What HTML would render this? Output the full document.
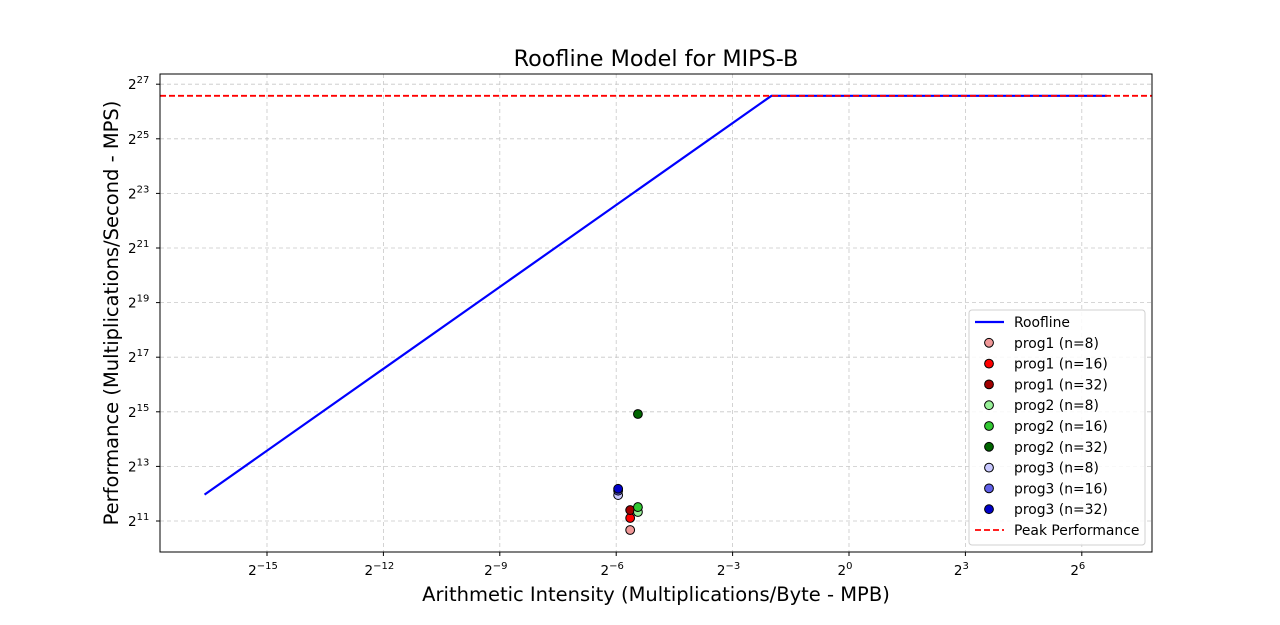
<!DOCTYPE html>
<html><head><meta charset="utf-8"><style>
body{margin:0;background:#fff;font-family:"Liberation Sans","DejaVu Sans",sans-serif}
svg text{font-family:"DejaVu Sans","Liberation Sans",sans-serif}
</style></head><body>
<svg id="chart" width="1280" height="620" xmlns="http://www.w3.org/2000/svg">
<text x="656" y="66" text-anchor="middle" font-size="22.3">Roofline Model for MIPS-B</text>
<g id="grid"></g>
<g id="marks"></g>
<rect x="160" y="74" width="992" height="478" fill="none" stroke="#000" stroke-width="1"/>
<g id="ticks"></g>
<text x="656" y="601" text-anchor="middle" font-size="19.5">Arithmetic Intensity (Multiplications/Byte - MPB)</text>
<text transform="translate(118,313) rotate(-90)" text-anchor="middle" font-size="19.5">Performance (Multiplications/Second - MPS)</text>
<g id="legend"></g>
</svg>
<script>
const xTickExps=[-15,-12,-9,-6,-3,0,3,6];
const yTickExps=[11,13,15,17,19,21,23,25,27];
const roofAI=[1e-5,0.25,100];
const peakPerf=1e8;
const seriesNames=["prog1 (n=8)","prog1 (n=16)","prog1 (n=32)","prog2 (n=8)","prog2 (n=16)","prog2 (n=32)","prog3 (n=8)","prog3 (n=16)","prog3 (n=32)"];
const seriesAIlog2=[-5.64,-5.64,-5.64,-5.44,-5.44,-5.44,-5.95,-5.95,-5.95];
const seriesPerfLog2=[10.67,11.11,11.40,11.33,11.51,14.92,11.95,12.11,12.18];
const seriesColors=["#f09898","#ff0000","#a00000","#98f098","#32c832","#006400","#c8c8ff","#6060e8","#0000c8"];
const bandwidth=4e8;
const NS="http://www.w3.org/2000/svg";
const X=l=>849+38.8*l, Y=l=>521-27.3*(l-11);
function mk(t,a,p){const e=document.createElementNS(NS,t);for(const k in a)e.setAttribute(k,a[k]);p.appendChild(e);return e;}
const grid=document.getElementById('grid'),ticks=document.getElementById('ticks'),marks=document.getElementById('marks'),leg=document.getElementById('legend');
xTickExps.forEach(e=>{const x=X(e);
 const g=mk('line',{x1:x,x2:x,y1:74,y2:552,stroke:'#c8c8c8','stroke-dasharray':'4,3','stroke-width':0.8},grid);
 
 
 mk('line',{x1:x,x2:x,y1:552,y2:556,stroke:'#000'},ticks);
 const t=mk('text',{x:x-4,y:575,'text-anchor':'middle','font-size':13.5},ticks);
 
 
 t.innerHTML='2<tspan dy="-6" font-size="10">'+(e<0?'\u2212'+(-e):e)+'</tspan>';});
yTickExps.forEach(e=>{const y=Y(e);
 const g=mk('line',{x1:160,x2:1152,y1:y,y2:y,stroke:'#c8c8c8','stroke-dasharray':'4,3','stroke-width':0.8},grid);
 
 
 mk('line',{x1:156,x2:160,y1:y,y2:y,stroke:'#000'},ticks);
 const t=mk('text',{x:128,y:y+5,'font-size':13.5},ticks);
 
 
 t.innerHTML='2<tspan dy="-6" font-size="10">'+e+'</tspan>';});
const pts=roofAI.map(a=>[X(Math.log2(a)),Y(Math.log2(Math.min(peakPerf,a*bandwidth)))]);
const rl=mk('polyline',{points:pts.map(p=>p.join(',')).join(' '),fill:'none',stroke:'#0000ff','stroke-width':2.2},marks);


const pk=mk('line',{x1:160,x2:1152,y1:Y(Math.log2(peakPerf)),y2:Y(Math.log2(peakPerf)),stroke:'#ff0000','stroke-width':1.8,'stroke-dasharray':'6,3'},marks);


seriesNames.forEach((n,i)=>{const c=mk('circle',{cx:X(seriesAIlog2[i]),cy:Y(seriesPerfLog2[i]),r:4.4,fill:seriesColors[i],stroke:'#000','stroke-width':1},marks);
 
 });
mk('rect',{x:969,y:310,width:176,height:235,rx:3,fill:'#fff','fill-opacity':0.85,stroke:'#d0d0d0'},leg);
const labels=["Roofline"].concat(seriesNames,["Peak Performance"]);
labels.forEach((l,i)=>{const y=322+20.8*i;
 const g=mk('g',{},leg);
 
 
 if(i==0)mk('line',{x1:975,x2:1004,y1:y,y2:y,stroke:'#0000ff','stroke-width':2.2},g);
 else if(i==labels.length-1)mk('line',{x1:975,x2:1004,y1:y,y2:y,stroke:'#ff0000','stroke-width':1.8,'stroke-dasharray':'6,3'},g);
 else mk('circle',{cx:989,cy:y,r:4.4,fill:seriesColors[i-1],stroke:'#000'},g);
 const t=mk('text',{x:1014,y:y+5,'font-size':13.9},g);t.textContent=l;});
</script>
</body></html>
